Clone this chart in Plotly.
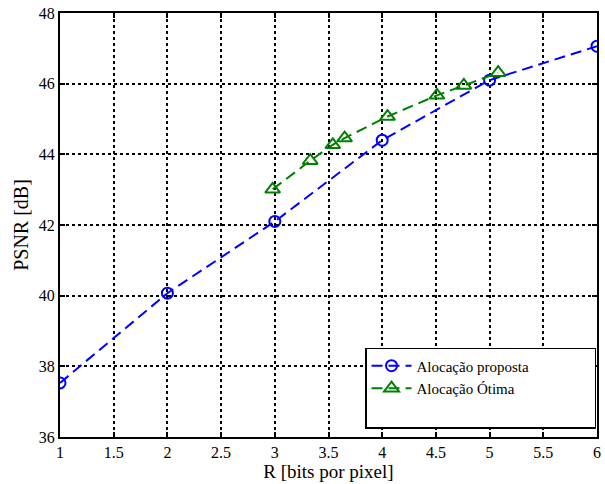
import plotly.graph_objects as go

rate_prop = [1, 2, 3, 4, 5, 6]
psnr_prop = [37.53, 40.07, 42.1, 44.4, 46.1, 47.06]

rate_opt = [2.98, 3.33, 3.54, 3.65, 4.05, 4.51, 4.76, 5.08]
psnr_opt = [43.01, 43.82, 44.27, 44.46, 45.07, 45.67, 45.95, 46.31]

x_ticks = [1, 1.5, 2, 2.5, 3, 3.5, 4, 4.5, 5, 5.5, 6]
y_ticks = [36, 38, 40, 42, 44, 46, 48]

font = "Liberation Serif"
pad = "\u00a0" * 16

fig = go.Figure()
fig.add_trace(go.Scatter(
    x=rate_prop, y=psnr_prop, mode="lines+markers", name="Alocação proposta" + pad,
    line=dict(color="#0000ff", width=2, dash="11px,6px"),
    marker=dict(symbol="circle-open", size=11, color="#0000ff", line=dict(width=2)),
))
fig.add_trace(go.Scatter(
    x=rate_opt, y=psnr_opt, mode="lines+markers", name="Alocação Ótima",
    line=dict(color="#008000", width=2, dash="11px,6px"),
    marker=dict(symbol="triangle-up-open", size=13, color="#008000", line=dict(width=2)),
))
fig.add_trace(go.Scatter(
    x=[None], y=[None], mode="lines", name=" ",
    line=dict(color="rgba(0,0,0,0)", width=0), hoverinfo="skip",
))

axis_common = dict(
    showgrid=True, gridcolor="black", griddash="dot", gridwidth=1.5,
    showline=True, linecolor="black", linewidth=2, mirror="allticks",
    ticks="inside", ticklen=5, tickwidth=1.5, tickcolor="black",
    zeroline=False,
    tickfont=dict(family=font, size=16, color="black"),
)

fig.update_layout(
    width=605, height=484,
    margin=dict(l=60, r=4, t=13, b=47),
    paper_bgcolor="white", plot_bgcolor="white",
    font=dict(family=font, size=16, color="black"),
    xaxis=dict(range=[1, 6], tickvals=x_ticks,
               ticktext=[f"{v:g}" for v in x_ticks],
               title=dict(text="R [bits por pixel]", standoff=3,
                          font=dict(family=font, size=19)),
               **axis_common),
    yaxis=dict(range=[36, 48], tickvals=y_ticks,
               title=dict(text="PSNR [dB]", standoff=5,
                          font=dict(family=font, size=20)),
               **axis_common),
    legend=dict(x=0.568, y=0.21, xanchor="left", yanchor="top",
                bgcolor="white", bordercolor="black", borderwidth=1.5,
                font=dict(family=font, size=15, color="black"),
                itemwidth=40, tracegroupgap=0),
    showlegend=True,
)

fig.write_html("out.html")
